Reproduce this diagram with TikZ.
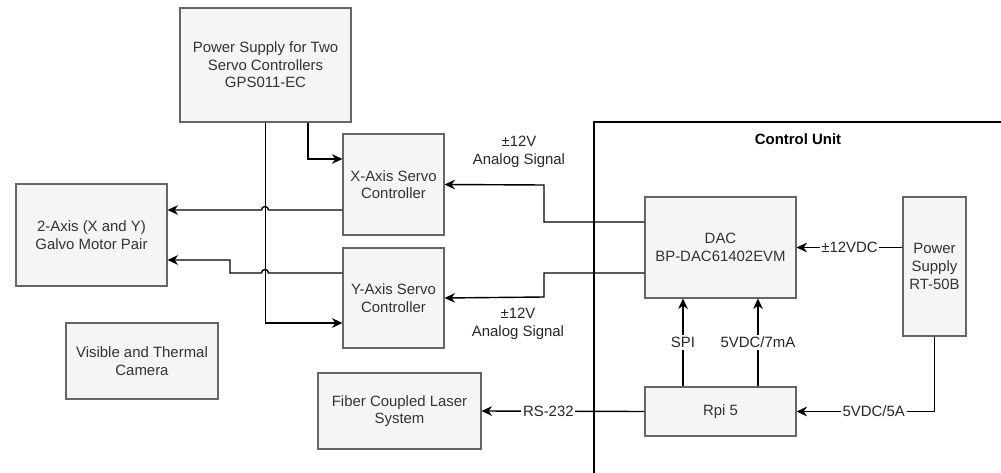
\documentclass[tikz,border=0pt]{standalone}
\usepackage{fontspec}
\setmainfont{Liberation Sans}
\usetikzlibrary{arrows.meta}
\definecolor{boxfill}{HTML}{F5F5F5}
\definecolor{boxline}{HTML}{666666}
\definecolor{boxtext}{HTML}{333333}
\begin{document}
\begin{tikzpicture}[x=0.02cm,y=-0.02cm,
        font=\fontsize{8.5}{10}\selectfont,
        blk/.style={draw=boxline,fill=boxfill,line width=0.6pt,text=boxtext,align=center,inner sep=0pt},
        arr/.style={-{Stealth[length=6pt,width=5.5pt]},line width=0.8pt},
        lbl/.style={fill=white,inner sep=1pt,text=black!85},
        note/.style={align=center,text=black!85}]
        \useasboundingbox (0,0) rectangle (1001,473);
        % control unit frame
        \draw[line width=0.8pt] (594,473) |- (1001,122);
        \node[font=\fontsize{8.5}{10}\selectfont\bfseries] (CU) at (798,139) {Control Unit};
        % blocks
        \node[blk,minimum width=3.42cm,minimum height=2.28cm] (PSU) at (265.5,65) {Power Supply for Two\\Servo Controllers\\GPS011-EC};
        \node[blk,minimum width=2.02cm,minimum height=2.02cm] (XS) at (393.5,184.5) {X-Axis Servo\\Controller};
        \node[blk,minimum width=2.02cm,minimum height=2cm] (YS) at (393.5,298) {Y-Axis Servo\\Controller};
        \node[blk,minimum width=3.02cm,minimum height=2.04cm] (GM) at (91.5,235) {2-Axis (X and Y)\\Galvo Motor Pair};
        \node[blk,minimum width=3.04cm,minimum height=1.52cm] (CAM) at (142,361) {Visible and Thermal\\Camera};
        \node[blk,minimum width=3.26cm,minimum height=1.52cm] (LAS) at (399.5,411) {Fiber Coupled Laser\\System};
        \node[blk,minimum width=3.02cm,minimum height=2.02cm] (DAC) at (720.5,247.5) {DAC\\BP-DAC61402EVM};
        \node[blk,minimum width=1.26cm,minimum height=2.78cm] (PSR) at (934.5,266.5) {Power\\Supply\\RT-50B};
        \node[blk,minimum width=3.02cm,minimum height=0.98cm] (RPI) at (720.5,411.5) {Rpi 5};
        % signal notes
        \node[note] (AX) at (519,152) {±12V\\Analog Signal};
        \node[note] (AY) at (518,324) {±12V\\Analog Signal};
        % servo power
        \draw[arr] ([xshift=0.85cm]PSU.south) |- ([yshift=0.51cm]XS.west);
        \draw[arr] (PSU.south) |- ([yshift=-0.5cm]YS.west);
        % servo to galvo, hopping the supply line
        \draw[arr] ([yshift=-0.51cm]XS.west) -- (268.5,210) arc[start angle=0,end angle=180,radius=0.07cm] -- ([yshift=0.5cm]GM.east);
        \draw[arr] ([yshift=0.5cm]YS.west) -- (268.5,273) arc[start angle=0,end angle=180,radius=0.07cm] -- (230,273) |- ([yshift=-0.5cm]GM.east);
        % dac outputs
        \draw[arr] ([yshift=0.51cm]DAC.west) -| (544,185) -- (XS.east);
        \draw[arr] ([yshift=-0.51cm]DAC.west) -| (544,297) -- (YS.east);
        % control unit links
        \draw[arr] (PSR.west |- DAC.east) -- node[lbl]{±12VDC} (DAC.east);
        \draw[arr] (PSR.south) |- node[lbl,pos=0.72]{5VDC/5A} (RPI.east);
        \draw[arr] ([xshift=-0.75cm]RPI.north) -- node[lbl]{SPI} ([xshift=-0.75cm]DAC.south);
        \draw[arr] ([xshift=0.75cm]RPI.north) -- node[lbl]{5VDC/7mA} ([xshift=0.75cm]DAC.south);
        \draw[arr] (RPI.west) -- node[lbl,pos=0.59]{RS-232} (LAS.east);
\end{tikzpicture}
\end{document}
